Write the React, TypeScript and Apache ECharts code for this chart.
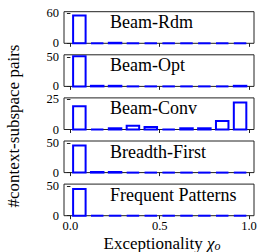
import React, { useEffect, useRef } from "react";
import * as echarts from "echarts";

const binEdges = [0, 0.1, 0.2, 0.3, 0.4, 0.5, 0.6, 0.7, 0.8, 0.9, 1.0];
const methods = ["Beam-Rdm", "Beam-Opt", "Beam-Conv", "Breadth-First", "Frequent Patterns"];
const beamRdm = [55, 0, 1, 0, 0, 0, 0, 0, 0, 0];
const beamOpt = [51, 1, 1, 0, 0, 0, 0, 0, 0, 1];
const beamConv = [19, 0, 1, 3, 2, 0, 1, 1, 7, 22];
const breadthFirst = [46, 1, 1, 0, 0, 0, 0, 0, 0, 0];
const frequentPatterns = [45, 0, 0, 0, 0, 0, 0, 0, 0, 0];
const yMax = [62.6, 53.4, 25.8, 53.4, 53.4];
const yTickStep = [60, 50, 25, 50, 50];
const xTicks = [0, 0.5, 1.0];

const allValues = [beamRdm, beamOpt, beamConv, breadthFirst, frequentPatterns];

const FONT = "Liberation Serif";
const BLUE = "#0000ff";

export default function App() {
  const ref = useRef<HTMLDivElement>(null);
  useEffect(() => {
    if (!ref.current) return;
    const chart = echarts.init(ref.current, undefined, { renderer: "svg" });
    const left = 64;
    const width = 190;
    const top0 = 11.7;
    const step = 43.1;
    const h = 31.6;
    const pad = 0.015;

    const grids: any[] = [];
    const xAxes: any[] = [];
    const yAxes: any[] = [];
    const series: any[] = [];
    const graphics: any[] = [];

    methods.forEach((name, i) => {
      const top = top0 + step * i;
      grids.push({
        left,
        top,
        width,
        height: h,
        show: true,
        borderColor: "#222",
        borderWidth: 1,
        backgroundColor: "transparent",
      });
      const last = i === methods.length - 1;
      xAxes.push({
        type: "value",
        gridIndex: i,
        min: -0.036,
        max: 1.028,
        axisLine: { show: false },
        splitLine: { show: false },
        axisTick: {
          show: true,
          length: 3.5,
          customValues: xTicks,
          lineStyle: { color: "#222", width: 1 },
        },
        axisLabel: {
          show: last,
          customValues: xTicks,
          formatter: (v: number) => v.toFixed(1),
          fontFamily: FONT,
          fontSize: 12.5,
          color: "#000",
          margin: 4,
        },
      });
      yAxes.push({
        type: "value",
        gridIndex: i,
        min: 0,
        max: yMax[i],
        interval: yTickStep[i],
        axisLine: { show: false },
        splitLine: { show: false },
        axisTick: { show: true, length: 3.5, lineStyle: { color: "#222", width: 1 } },
        axisLabel: {
          fontFamily: FONT,
          fontSize: 12.5,
          color: "#000",
          margin: 5,
          showMaxLabel: false,
          showMinLabel: true,
        },
      });
      const data = allValues[i].map((v, k) => [binEdges[k], binEdges[k + 1], v]);
      series.push({
        type: "custom",
        xAxisIndex: i,
        yAxisIndex: i,
        data,
        clip: false,
        renderItem: (params: any, api: any) => {
          const x0 = api.value(0) + pad;
          const x1 = api.value(1) - pad;
          const v = api.value(2);
          const p0 = api.coord([x0, v]);
          const p1 = api.coord([x1, 0]);
          if (v === 0) {
            return {
              type: "line",
              shape: { x1: p0[0], y1: p1[1], x2: p1[0], y2: p1[1] },
              style: { stroke: BLUE, lineWidth: 2 },
            };
          }
          return {
            type: "rect",
            shape: { x: p0[0], y: p0[1], width: p1[0] - p0[0], height: p1[1] - p0[1] },
            style: { fill: "none", stroke: BLUE, lineWidth: 2 },
          };
        },
      });
      graphics.push({
        type: "text",
        x: 110,
        y: top + 10.5,
        style: {
          text: name,
          fontFamily: FONT,
          fontSize: 18,
          fill: "#000",
          align: "left",
          verticalAlign: "middle",
        },
      });
    });

    graphics.push({
      type: "text",
      x: 13,
      y: 126,
      rotation: Math.PI / 2,
      style: {
        text: "#context-subspace pairs",
        fontFamily: FONT,
        fontSize: 17,
        fill: "#000",
        align: "center",
        verticalAlign: "middle",
      },
    });
    graphics.push({
      type: "text",
      x: 162,
      y: 243.5,
      style: {
        text: "{a|Exceptionality }{b|χ}{c|o}",
        align: "center",
        verticalAlign: "middle",
        rich: {
          a: { fontFamily: FONT, fontSize: 17, lineHeight: 16, verticalAlign: "middle", fill: "#000" },
          b: { fontFamily: FONT, fontSize: 17, fontStyle: "italic", lineHeight: 16, verticalAlign: "middle", fill: "#000" },
          c: { fontFamily: FONT, fontSize: 12, fontStyle: "italic", lineHeight: 10, verticalAlign: "bottom", fill: "#000" },
        },
      },
    });

    chart.setOption({
      animation: false,
      backgroundColor: "#fff",
      grid: grids,
      xAxis: xAxes,
      yAxis: yAxes,
      series,
      graphic: graphics,
    });
    return () => chart.dispose();
  }, []);
  return (
    <div
      ref={ref}
      style={{ position: "absolute", left: 0, top: 0, width: 260, height: 252 }}
    />
  );
}
